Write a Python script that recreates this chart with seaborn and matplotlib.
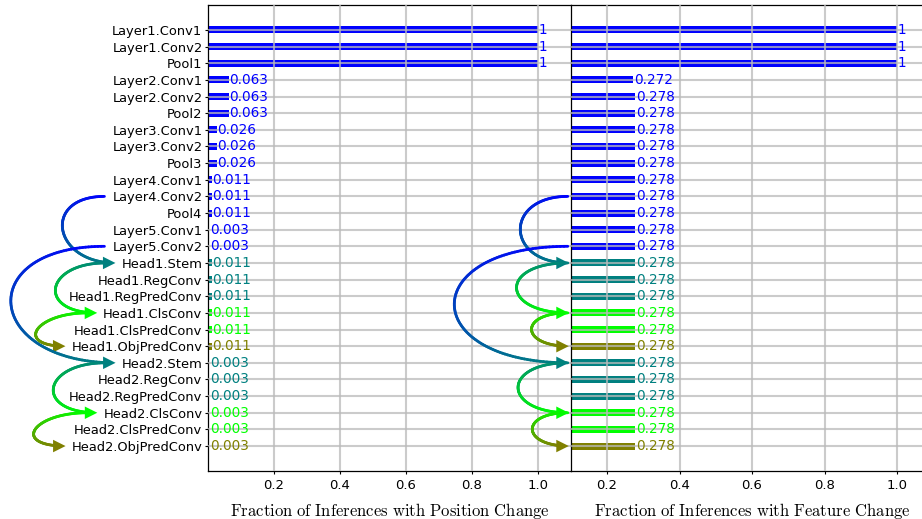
import numpy as np
import pandas as pd
import seaborn as sns
import matplotlib.pyplot as plt
from matplotlib.collections import LineCollection
from matplotlib.patches import FancyArrowPatch
from matplotlib.colors import to_rgb
from matplotlib.transforms import IdentityTransform

plt.rcParams['mathtext.fontset'] = 'cm'

layers = ['Layer1.Conv1', 'Layer1.Conv2', 'Pool1',
          'Layer2.Conv1', 'Layer2.Conv2', 'Pool2',
          'Layer3.Conv1', 'Layer3.Conv2', 'Pool3',
          'Layer4.Conv1', 'Layer4.Conv2', 'Pool4',
          'Layer5.Conv1', 'Layer5.Conv2',
          'Head1.Stem', 'Head1.RegConv', 'Head1.RegPredConv',
          'Head1.ClsConv', 'Head1.ClsPredConv', 'Head1.ObjPredConv',
          'Head2.Stem', 'Head2.RegConv', 'Head2.RegPredConv',
          'Head2.ClsConv', 'Head2.ClsPredConv', 'Head2.ObjPredConv']
position_change = [1, 1, 1, 0.063, 0.063, 0.063, 0.026, 0.026, 0.026,
                   0.011, 0.011, 0.011, 0.003, 0.003,
                   0.011, 0.011, 0.011, 0.011, 0.011, 0.011,
                   0.003, 0.003, 0.003, 0.003, 0.003, 0.003]
feature_change = [1, 1, 1, 0.272] + [0.278] * 22
groups = ['backbone'] * 14 + ['stem', 'reg', 'reg', 'cls', 'cls', 'obj'] * 2
group_colors = {'backbone': '#0000ff', 'stem': '#008080', 'reg': '#008080',
                'cls': '#00ff00', 'obj': '#808000'}

# connections drawn as curved arrows (source layer -> target layer)
links = [('Layer4.Conv2', 'Head1.Stem'), ('Layer5.Conv2', 'Head2.Stem'),
         ('Head1.Stem', 'Head1.ClsConv'), ('Head1.ClsConv', 'Head1.ObjPredConv'),
         ('Head2.Stem', 'Head2.ClsConv'), ('Head2.ClsConv', 'Head2.ObjPredConv')]
bulge_left = [63, 132, 61, 52, 64, 55]
bulge_right = [64, 152, 69, 49, 67, 48]

colors = [group_colors[g] for g in groups]
palette = dict(zip(layers, colors))
df = pd.DataFrame({'layer': layers, 'pos': position_change, 'feat': feature_change})

W, H = 922, 519
fig = plt.figure(figsize=(W / 100, H / 100), dpi=100)
ax1 = fig.add_axes([208 / W, 1 - 471 / H, 363 / W, 466 / H])
ax2 = fig.add_axes([570.8 / W, 1 - 471 / H, 362.5 / W, 466 / H])

xlabels = [r'$\mathrm{Fraction\ of\ Inferences\ with\ Position\ Change}$',
           r'$\mathrm{Fraction\ of\ Inferences\ with\ Feature\ Change}$']
for ax, col, xl, lo in [(ax1, 'pos', xlabels[0], 0), (ax2, 'feat', xlabels[1], 0.1)]:
    sns.barplot(data=df, x=col, y='layer', hue='layer', palette=palette, orient='h',
                width=0.42, saturation=1, errorbar=None, legend=False, ax=ax)
    for i, v in enumerate(df[col]):
        ax.annotate(f'{v:g}', (v, i), xytext=(0.5, 0), textcoords='offset points',
                    va='center', ha='left', color=colors[i], fontsize=9.8)
    ax.set_xlim(lo, 1.1)
    ax.set_ylim(len(layers) + 0.5, -1.5)
    ax.set_xticks([0.2, 0.4, 0.6, 0.8, 1.0])
    ax.grid(True, color='#bababa', lw=1.5, alpha=0.75)
    ax.set_axisbelow(False)
    ax.set_ylabel('')
    ax.set_xlabel(xl, fontsize=12, labelpad=6)
    ax.tick_params(axis='x', length=2, pad=4, labelsize=9.5)
    for s in ax.spines.values():
        s.set_color('black')
        s.set_linewidth(0.9)
    ax.spines['right'].set_visible(False)

ax1.tick_params(axis='y', length=2, pad=2, labelsize=9.4)
ax2.tick_params(axis='y', left=False, labelleft=False)

fig.canvas.draw()
renderer = fig.canvas.get_renderer()
label_left = {t.get_text(): t.get_window_extent(renderer).x0 for t in ax1.get_yticklabels()}
spine_x = ax2.transAxes.transform((0, 0))[0]
targets = [d for _, d in links]


def row_y(name):
    return ax1.transData.transform((0, layers.index(name)))[1]


def draw_link(p0, p1, k, c0, c1):
    t = np.linspace(0, 1, 120)[:, None]
    p0, p1 = np.array(p0), np.array(p1)
    q0, q1 = p0 - [k, 0], p1 - [k, 0]
    curve = (1 - t) ** 3 * p0 + 3 * (1 - t) ** 2 * t * q0 + 3 * (1 - t) * t ** 2 * q1 + t ** 3 * p1
    curve = curve[np.hypot(*(curve - p1).T) > 7]
    segs = np.stack([curve[:-1], curve[1:]], axis=1)
    a, b = np.array(to_rgb(c0)), np.array(to_rgb(c1))
    cols = [(1 - s) * a + s * b for s in np.linspace(0, 1, len(segs))]
    fig.add_artist(LineCollection(segs, colors=cols, linewidths=2,
                                  transform=IdentityTransform(), capstyle='round'))
    fig.add_artist(FancyArrowPatch(p1 - [15, 0], p1,
                                   arrowstyle='-|>,head_length=0.9,head_width=0.45',
                                   mutation_scale=10, color=c1, lw=0,
                                   shrinkA=0, shrinkB=0, transform=IdentityTransform()))


for (src, dst), kl, kr in zip(links, bulge_left, bulge_right):
    c0, c1 = palette[src], palette[dst]
    y0, y1 = row_y(src), row_y(dst)
    gap = 16 if src in targets else 8
    draw_link((label_left[src] - gap, y0), (label_left[dst] - 6, y1), kl, c0, c1)
    draw_link((spine_x - 3, y0), (spine_x - 2, y1), kr, c0, c1)

fig.savefig('out.png', dpi=100)
